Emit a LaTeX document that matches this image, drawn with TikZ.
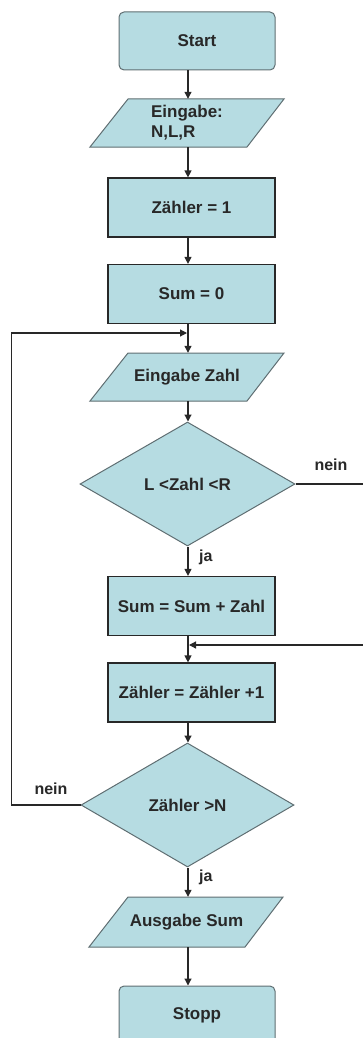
\documentclass[tikz,border=0pt]{standalone}
\usepackage{fontspec}
\setmainfont{Liberation Sans}
\usetikzlibrary{shapes.geometric,arrows.meta}
\definecolor{boxfill}{RGB}{182,220,226}
\definecolor{ink}{RGB}{40,40,40}
\definecolor{bordergray}{RGB}{95,110,114}
\begin{document}
\begin{tikzpicture}[x=1pt,y=-1pt,
  every node/.style={font=\fontsize{17}{20}\selectfont\bfseries, text=ink},
  term/.style={draw=bordergray, fill=boxfill, rounded corners=5pt, minimum width=156pt, minimum height=58pt, inner sep=0pt, line width=1pt},
  proc/.style={draw=ink, fill=boxfill, minimum width=167pt, minimum height=59pt, inner sep=0pt, line width=1.2pt},
  dec/.style={diamond, draw=bordergray, fill=boxfill, minimum width=215pt, minimum height=124pt, inner sep=0pt, line width=1pt},
  iotext/.style={minimum width=194pt, minimum height=48pt, inner sep=0pt, align=left},
  iobox/.style={draw=bordergray, fill=boxfill, line width=1pt, line join=miter},
  arr/.style={draw=ink, line width=1.2pt, -{Triangle[length=7pt,width=7pt]}},
  lbl/.style={font=\fontsize{16}{18}\selectfont\bfseries, inner sep=0pt}
]
\useasboundingbox (0,0) rectangle (363,1038);

\coordinate (col) at (188,0);

\node[term] (start) at (197,41) {Start};

\draw[iobox] (128,99) -- (284,99) -- (247,147) -- (90,147) -- cycle;
\node[iotext] (in1) at (187,123) {Eingabe:\\N,L,R};

\node[proc] (z1) at (191.5,207.5) {Zähler = 1};
\node[proc] (s0) at (191.5,294) {Sum = 0};

\draw[iobox] (128,353) -- (284,353) -- (247,401) -- (90,401) -- cycle;
\node[iotext] (in2) at (187,377) {Eingabe Zahl};

\node[dec] (d1) at (187.5,484) {L <Zahl <R};
\node[proc] (s1) at (191.5,606) {Sum = Sum + Zahl};
\node[proc] (z2) at (191.5,692.5) {Zähler = Zähler +1};
\node[dec, minimum width=213pt] (d2) at (187.5,805) {Zähler >N};

\draw[iobox] (128,897) -- (283,897) -- (245,947) -- (89,947) -- cycle;
\node[iotext, minimum height=50pt] (out) at (186.5,922) {Ausgabe Sum};

\node[term] (stop) at (197,1015) {Stopp};

\draw[arr] (start.south -| col) -- (in1.north -| col);
\draw[arr] (in1.south -| col) -- (z1.north -| col);
\draw[arr] (z1.south -| col) -- (s0.north -| col);
\draw[arr] (s0.south -| col) -- (in2.north -| col);
\draw[arr] (in2.south -| col) -- (d1.north -| col);
\draw[arr] (d1.south -| col) -- (s1.north -| col);
\draw[arr] (s1.south -| col) -- (z2.north -| col);
\draw[arr] (z2.south -| col) -- (d2.north -| col);
\draw[arr] (d2.south -| col) -- (out.north -| col);
\draw[arr] (out.south -| col) -- (stop.north -| col);

\coordinate (m1) at (187,333);
\coordinate (m2) at (189,645);
\draw[arr] (d2.west) -- ++(-69,0) |- (m1);
\draw[arr] (d1.east) -- (365,484) |- (m2);

\node[lbl] (nein1) at (331,465) {nein};
\node[lbl, anchor=west] (ja1) at (199,557) {ja};
\node[lbl] (nein2) at (51,789) {nein};
\node[lbl, anchor=west] (ja2) at (199,877) {ja};
\end{tikzpicture}
\end{document}
